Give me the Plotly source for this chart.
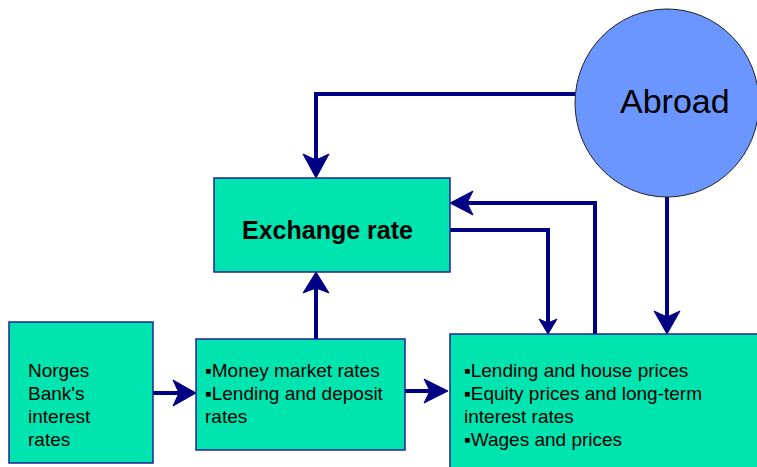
import plotly.graph_objects as go

# ---- content (text) ----
node_names = ["norges", "money", "economy", "exchange", "abroad"]
node_lines = [
    ["Norges", "Bank's", "interest", "rates"],
    ["▪Money market rates", "▪Lending and deposit", "rates"],
    ["▪Lending and house prices", "▪Equity prices and long-term", "interest rates", "▪Wages and prices"],
    ["<b>Exchange rate</b>"],
    ["Abroad"],
]
edges = [  # (from, to)
    ("abroad", "exchange"),
    ("economy", "exchange"),
    ("exchange", "economy"),
    ("abroad", "economy"),
    ("money", "exchange"),
    ("norges", "money"),
    ("money", "economy"),
]

# ---- layout geometry (pixel space, y downwards) ----
W, H = 757, 467
boxes = {  # x0, y0, x1, y1
    "norges": (9, 322, 153, 463),
    "money": (196, 339, 405, 450),
    "economy": (450, 334, 762, 475),
    "exchange": (214, 178, 450, 272),
}
circle = (575, 9, 759, 197)
text_pos = {  # x, first-line y (centre), anchor, size, line step
    "norges": (26, 370, "left", 19, 23),
    "money": (203, 370, "left", 19, 23),
    "economy": (462, 370, "left", 19, 23),
    "exchange": (327, 230, "center", 25, 0),
    "abroad": (675, 101, "center", 34, 0),
}
edge_paths = [  # polyline points, last is arrow tip
    [(575, 94), (316, 94), (316, 178)],
    [(595, 334), (595, 203), (450, 203)],
    [(450, 230), (548, 230), (548, 334)],
    [(667, 197), (667, 334)],
    [(316, 339), (316, 272)],
    [(153, 393), (196, 393)],
    [(405, 391), (448, 391)],
]
head_sizes = [  # length, half-width, notch depth
    (24, 13, 6), (23, 12, 6), (15, 9, 4), (23, 13, 6), (21, 13, 5), (23, 13, 6), (24, 12, 6),
]

BOX_FILL = "#00E5B0"
BOX_LINE = "#22229A"
CIRCLE_FILL = "#6B95FF"
ARROW = "#000085"
FONT = "Liberation Sans, Arial, sans-serif"

fig = go.Figure()
shapes = []
annotations = []

for pts, (hl, hw, nd) in zip(edge_paths, head_sizes):
    (xa, ya), (xb, yb) = pts[-2], pts[-1]
    L = ((xb - xa) ** 2 + (yb - ya) ** 2) ** 0.5
    ux, uy = (xb - xa) / L, (yb - ya) / L
    px, py = -uy, ux
    xe, ye = xb - ux * (hl - nd - 1), yb - uy * (hl - nd - 1)
    line_pts = pts[:-1] + [(xe, ye)]
    path = "M " + " L ".join(f"{x:.1f},{y:.1f}" for x, y in line_pts)
    shapes.append(dict(type="path", path=path, xref="x", yref="y",
                       line=dict(color=ARROW, width=4)))
    bx, by = xb - ux * hl, yb - uy * hl
    nx, ny = xb - ux * (hl - nd), yb - uy * (hl - nd)
    head = (f"M {xb:.1f},{yb:.1f} L {bx + px * hw:.1f},{by + py * hw:.1f} "
            f"L {nx:.1f},{ny:.1f} L {bx - px * hw:.1f},{by - py * hw:.1f} Z")
    shapes.append(dict(type="path", path=head, xref="x", yref="y",
                       fillcolor=ARROW, line=dict(color=ARROW, width=1)))

for name, (x0, y0, x1, y1) in boxes.items():
    shapes.append(dict(type="rect", x0=x0, y0=y0, x1=x1, y1=y1, xref="x", yref="y",
                       fillcolor=BOX_FILL, line=dict(color=BOX_LINE, width=1.5),
                       layer="above"))

cx0, cy0, cx1, cy1 = circle
shapes.append(dict(type="circle", x0=cx0, y0=cy0, x1=cx1, y1=cy1, xref="x", yref="y",
                   fillcolor=CIRCLE_FILL, line=dict(color="#222222", width=1),
                   layer="above"))

for name, lines in zip(node_names, node_lines):
    x, y, xa, fs, step = text_pos[name]
    for i, txt in enumerate(lines):
        annotations.append(dict(x=x, y=y + i * step, xref="x", yref="y", text=txt,
                                showarrow=False, xanchor=xa, yanchor="middle",
                                align="left",
                                font=dict(family=FONT, size=fs, color="#000000")))

fig.update_layout(
    width=W, height=H, margin=dict(l=0, r=0, t=0, b=0),
    paper_bgcolor="white", plot_bgcolor="white",
    xaxis=dict(range=[0, W], visible=False, fixedrange=True),
    yaxis=dict(range=[H, 0], visible=False, fixedrange=True),
    shapes=shapes, annotations=annotations, showlegend=False,
)
fig.write_html("out.html", config={"displayModeBar": False},
               post_script="document.body.style.margin='0';")
